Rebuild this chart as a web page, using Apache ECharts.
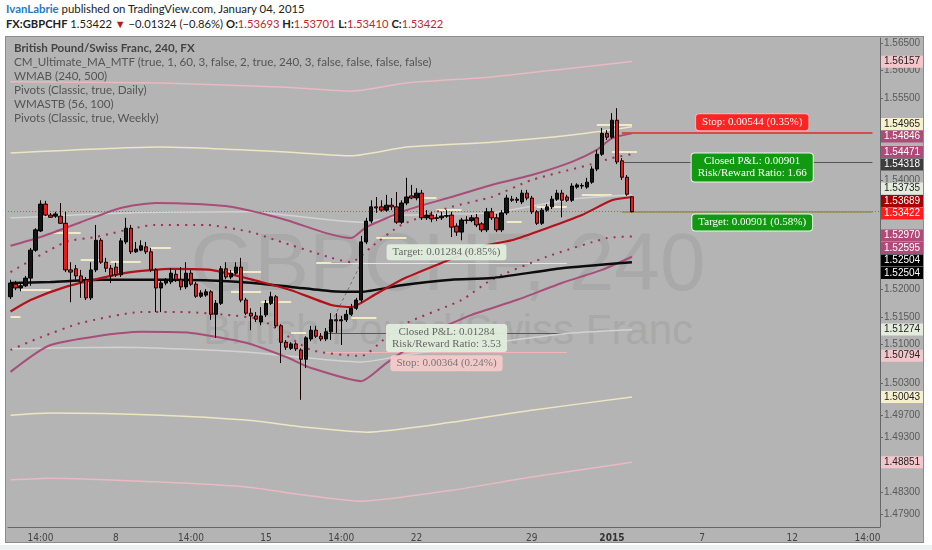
<!DOCTYPE html>
<html>
<head>
<meta charset="utf-8">
<script src="https://cdn.jsdelivr.net/npm/echarts@6/dist/echarts.min.js"></script>
<style>
  html, body { margin: 0; padding: 0; background: #fff; }
  #wrap { position: relative; width: 932px; height: 550px; overflow: hidden; font-family: Lato, "Open Sans", sans-serif; }
  #hdr1 { position: absolute; left: 6px; top: 2px; font-size: 11.4px; color: #222; white-space: nowrap; }
  #hdr1 .au { color: #1f7cc1; font-weight: bold; }
  #hdr2 { position: absolute; left: 6px; top: 17px; font-size: 11.2px; color: #222; white-space: nowrap; }
  #hdr2 .r { color: #c0262d; }
  #hdr2 .dn { color: #b71c1c; font-size: 11px; }
  #foot { position: absolute; left: 0; top: 545px; width: 932px; height: 5px; background: #eef1f3; }
  #panel { position: absolute; left: 5px; top: 36px; width: 919px; height: 507px; background: #b4b4b4; border: 1px solid #8c8c8c; box-sizing: border-box; }
  .wm { position: absolute; left: 0; width: 896px; text-align: center; font-family: "Liberation Sans", Arial, sans-serif; color: #a9a9a9; white-space: nowrap; }
  #wm1 { top: 221px; font-size: 82px; line-height: 82px; }
  #wm2 { top: 309px; font-size: 42px; line-height: 42px; }
  #chart { position: absolute; left: 0; top: 0; width: 932px; height: 550px; }
  #legend { position: absolute; left: 14px; top: 41px; font-size: 11.6px; line-height: 14px; color: #555; pointer-events: none; white-space: nowrap; }
  #legend .t { font-weight: bold; color: #444; }
</style>
</head>
<body>
<div id="wrap">
  <div id="hdr1"><span class="au">IvanLabrie</span> published on TradingView.com, January 04, 2015</div>
  <div id="hdr2"><b>FX:GBPCHF</b> 1.53422 <span class="dn">&#9660;</span> &minus;0.01324 (&minus;0.86%) <b>O:</b><span class="r">1.53693</span> <b>H:</b><span class="r">1.53701</span> <b>L:</b><span class="r">1.53410</span> <b>C:</b><span class="r">1.53422</span></div>
  <div id="panel"></div>
  <div id="foot"></div>
  <div class="wm" id="wm1">GBPCHF, 240</div>
  <div class="wm" id="wm2">British Pound/Swiss Franc</div>
  <div id="chart"></div>
  <div id="legend">
    <div class="t">British Pound/Swiss Franc, 240, FX</div>
    <div>CM_Ultimate_MA_MTF (true, 1, 60, 3, false, 2, true, 240, 3, false, false, false, false)</div>
    <div>WMAB (240, 500)</div>
    <div>Pivots (Classic, true, Daily)</div>
    <div>WMASTB (56, 100)</div>
    <div>Pivots (Classic, true, Weekly)</div>
  </div>
</div>
<script>
"use strict";

// 4H bars, index = bar number (the chart keeps empty future bars on the right)
const bars = Array.from({ length: 174 }, (_, i) => String(i));
const xTicks = [[6, "14:00"], [21, "8"], [36, "14:00"], [51, "15"], [66, "14:00"], [81, "22"],
                [104, "29"], [120, "2015"], [138, "7"], [156, "12"], [171, "14:00"]];
const yTicks = [1.565, 1.560, 1.555, 1.550, 1.545, 1.540, 1.535, 1.530, 1.525, 1.520, 1.515,
                1.510, 1.503, 1.497, 1.493, 1.488, 1.483, 1.479];

// open, high, low, close
const ohlc = [
  [1.5187,1.5218,1.5183,1.5212],[1.5210,1.5216,1.5199,1.5203],[1.5203,1.5212,1.5197,1.5207],[1.5207,1.5225,1.5205,1.5221],
  [1.5221,1.5276,1.5207,1.5272],[1.5272,1.5312,1.5269,1.5309],[1.5307,1.5363,1.5305,1.5356],[1.5356,1.5362,1.5334,1.5336],
  [1.5336,1.5340,1.5331,1.5332],[1.5334,1.5342,1.5331,1.5338],[1.5334,1.5358,1.5320,1.5321],[1.5321,1.5342,1.5232,1.5236],
  [1.5236,1.5250,1.5177,1.5232],[1.5238,1.5245,1.5218,1.5225],[1.5225,1.5236,1.5185,1.5214],[1.5218,1.5223,1.5181,1.5185],
  [1.5185,1.5250,1.5181,1.5236],[1.5236,1.5318,1.5232,1.5290],[1.5290,1.5294,1.5247,1.5250],[1.5250,1.5258,1.5232,1.5239],
  [1.5239,1.5245,1.5212,1.5225],[1.5241,1.5249,1.5223,1.5227],[1.5227,1.5294,1.5223,1.5289],[1.5287,1.5331,1.5283,1.5312],
  [1.5312,1.5318,1.5265,1.5269],[1.5269,1.5287,1.5267,1.5274],[1.5272,1.5290,1.5270,1.5280],[1.5278,1.5287,1.5265,1.5269],
  [1.5269,1.5276,1.5232,1.5236],[1.5236,1.5239,1.5159,1.5203],[1.5203,1.5218,1.5159,1.5212],[1.5212,1.5221,1.5208,1.5218],
  [1.5214,1.5239,1.5210,1.5230],[1.5228,1.5236,1.5214,1.5218],[1.5218,1.5241,1.5199,1.5205],[1.5205,1.5250,1.5201,1.5230],
  [1.5230,1.5236,1.5207,1.5210],[1.5210,1.5214,1.5185,1.5188],[1.5188,1.5199,1.5185,1.5194],[1.5190,1.5201,1.5187,1.5196],
  [1.5196,1.5199,1.5145,1.5155],[1.5155,1.5181,1.5112,1.5175],[1.5175,1.5243,1.5172,1.5238],[1.5238,1.5250,1.5219,1.5223],
  [1.5223,1.5236,1.5219,1.5230],[1.5230,1.5250,1.5227,1.5241],[1.5241,1.5258,1.5177,1.5181],[1.5181,1.5185,1.5154,1.5157],
  [1.5157,1.5166,1.5126,1.5152],[1.5152,1.5159,1.5141,1.5146],[1.5141,1.5168,1.5135,1.5152],[1.5154,1.5181,1.5150,1.5175],
  [1.5175,1.5196,1.5172,1.5187],[1.5187,1.5190,1.5130,1.5134],[1.5134,1.5137,1.5066,1.5104],[1.5104,1.5108,1.5090,1.5095],
  [1.5093,1.5104,1.5090,1.5101],[1.5101,1.5104,1.5088,1.5092],[1.5090,1.5093,1.4999,1.5073],[1.5073,1.5115,1.5057,1.5112],
  [1.5110,1.5134,1.5106,1.5126],[1.5126,1.5134,1.5112,1.5115],[1.5115,1.5121,1.5106,1.5110],[1.5110,1.5130,1.5106,1.5123],
  [1.5123,1.5157,1.5108,1.5145],[1.5145,1.5157,1.5121,1.5143],[1.5143,1.5152,1.5099,1.5145],[1.5145,1.5163,1.5141,1.5155],
  [1.5155,1.5174,1.5152,1.5166],[1.5166,1.5185,1.5163,1.5181],[1.5181,1.5298,1.5177,1.5287],[1.5287,1.5331,1.5283,1.5325],
  [1.5325,1.5363,1.5321,1.5351],[1.5351,1.5369,1.5340,1.5349],[1.5351,1.5363,1.5342,1.5345],[1.5345,1.5373,1.5342,1.5354],
  [1.5354,1.5367,1.5345,1.5351],[1.5351,1.5378,1.5320,1.5323],[1.5323,1.5363,1.5320,1.5358],[1.5358,1.5404,1.5354,1.5369],
  [1.5371,1.5391,1.5365,1.5367],[1.5367,1.5385,1.5363,1.5376],[1.5376,1.5382,1.5327,1.5331],[1.5331,1.5345,1.5327,1.5336],
  [1.5336,1.5342,1.5323,1.5329],[1.5331,1.5338,1.5325,1.5330],[1.5331,1.5342,1.5327,1.5334],[1.5334,1.5345,1.5331,1.5335],
  [1.5336,1.5342,1.5296,1.5314],[1.5316,1.5321,1.5298,1.5305],[1.5305,1.5331,1.5290,1.5327],[1.5327,1.5334,1.5320,1.5326],
  [1.5326,1.5336,1.5323,1.5331],[1.5331,1.5338,1.5314,1.5318],[1.5320,1.5323,1.5305,1.5309],[1.5309,1.5349,1.5305,1.5342],
  [1.5342,1.5349,1.5327,1.5331],[1.5331,1.5338,1.5305,1.5309],[1.5309,1.5345,1.5305,1.5340],[1.5340,1.5373,1.5336,1.5367],
  [1.5365,1.5371,1.5360,1.5363],[1.5363,1.5369,1.5358,1.5365],[1.5360,1.5382,1.5356,1.5376],[1.5376,1.5382,1.5363,1.5367],
  [1.5367,1.5371,1.5338,1.5342],[1.5342,1.5345,1.5318,1.5321],[1.5321,1.5349,1.5318,1.5345],[1.5345,1.5356,1.5342,1.5351],
  [1.5351,1.5371,1.5347,1.5365],[1.5365,1.5382,1.5362,1.5376],[1.5376,1.5382,1.5332,1.5363],[1.5369,1.5373,1.5360,1.5363],
  [1.5363,1.5394,1.5360,1.5389],[1.5387,1.5394,1.5384,1.5391],[1.5389,1.5394,1.5384,1.5390],[1.5387,1.5404,1.5384,1.5396],
  [1.5396,1.5425,1.5393,1.5420],[1.5420,1.5455,1.5416,1.5447],[1.5447,1.5495,1.5444,1.5485],[1.5485,1.5491,1.5473,1.5478],
  [1.5478,1.5522,1.5475,1.5509],[1.5509,1.5531,1.5429,1.5433],[1.5435,1.5440,1.5400,1.5405],[1.5405,1.5409,1.5371,1.5374],
  [1.53693,1.53701,1.53410,1.53422]
];
const lastClose = 1.53422;

// indicator lines, [bar, price] read at the turning points
const redMA   = [[0,1.5160],[4,1.5181],[11,1.5205],[18,1.5221],[24,1.5232],[32,1.5238],[40,1.5236],[50,1.5214],[56,1.5199],[64,1.5172],
                 [68,1.5168],[72,1.5187],[78,1.5218],[85,1.5245],[95,1.5281],[100,1.5290],[107,1.5312],[114,1.5336],[120,1.5363],[124,1.5369]];
const blackMA = [[0,1.5212],[8,1.5214],[18,1.5218],[32,1.5218],[46,1.5214],[56,1.5205],[64,1.5197],[70,1.5196],[78,1.5208],[88,1.5218],
                 [96,1.5221],[110,1.5239],[124,1.5250]];
const bandUp  = [[0,1.5280],[6,1.5296],[14,1.5323],[22,1.5349],[29,1.5358],[37,1.5356],[44,1.5351],[55,1.5327],[63,1.5303],[68,1.5294],
                 [71,1.5314],[79,1.5345],[88,1.5369],[96,1.5391],[104,1.5409],[112,1.5433],[117,1.5455],[120,1.5476],[124,1.5485]];
const bandDn  = [[0,1.5050],[8,1.5099],[26,1.5123],[36,1.5121],[47,1.5103],[55,1.5077],[60,1.5057],[70,1.5033],[75,1.5066],[84,1.5121],
                 [92,1.5154],[101,1.5181],[110,1.5212],[118,1.5236],[124,1.5260]];
const dotUp   = [[0,1.5232],[11,1.5287],[17,1.5296],[29,1.5318],[39,1.5318],[48,1.5305],[53,1.5290],[64,1.5258],[68,1.5250],[72,1.5278],
                 [78,1.5318],[88,1.5351],[96,1.5369],[104,1.5400],[116,1.5429],[120,1.5440],[124,1.5447]];
const dotDn   = [[0,1.5090],[6,1.5113],[14,1.5139],[26,1.5159],[35,1.5159],[43,1.5154],[50,1.5145],[60,1.5090],[70,1.5079],[75,1.5113],
                 [79,1.5139],[90,1.5181],[96,1.5218],[107,1.5260],[119,1.5294],[124,1.5297]];
const creamUp = [[0,1.5449],[30,1.5460],[55,1.5451],[68,1.5444],[79,1.5460],[96,1.5469],[112,1.5482],[124,1.5497]];
const creamDn = [[0,1.4971],[8,1.4975],[30,1.4971],[47,1.4962],[59,1.4949],[71,1.4940],[88,1.4958],[104,1.4980],[124,1.5004]];
const pinkUp  = [[0,1.5579],[30,1.5577],[55,1.5569],[68,1.5562],[79,1.5577],[96,1.5588],[112,1.5604],[124,1.5616]];
const pinkDn  = [[0,1.4853],[8,1.4856],[30,1.4849],[47,1.4840],[59,1.4825],[70,1.4814],[88,1.4834],[104,1.4858],[124,1.4885]];
const lightUp = [[0,1.5331],[23,1.5340],[47,1.5342],[70,1.5323],[79,1.5336],[96,1.5340],[112,1.5365],[124,1.5373]];
const lightDn = [[0,1.5092],[22,1.5095],[47,1.5086],[70,1.5068],[79,1.5081],[96,1.5103],[112,1.5121],[124,1.5127]];

// daily pivot segments: from bar, to bar, price
const pivots = [[0,2,1.5150],[2,8,1.5199],[8,14,1.5303],[14,18,1.5254],[20,26,1.5250],[28,32,1.5276],[43,50,1.5232],
                [44,50,1.5196],[50,56,1.5177],[56,59,1.5121],[61,64,1.5249],[68,73,1.5148],[73,79,1.5294],[80,85,1.5367],
                [85,90,1.5345],[99,102,1.5323],[105,111,1.5351],[114,120,1.5373],[117,124,1.5500],[120,125,1.5451]];

// trades: from bar, to bar, entry, stop, target, label bar
const tradeA = [63, 111, 1.5121, 1.5085, 1.5249, 87];
const tradeB = [122, 172, 1.54318, 1.54862, 1.53417, 148];
const tradeAText = ["Target: 0.01284 (0.85%)", "Closed P&L: 0.01284\nRisk/Reward Ratio: 3.53", "Stop: 0.00364 (0.24%)"];
const tradeBText = ["Target: 0.00901 (0.58%)", "Closed P&L: 0.00901\nRisk/Reward Ratio: 1.66", "Stop: 0.00544 (0.35%)"];

// right scale value tags: value, fill, text
const priceTags = [
  [1.56157, "#f4c6cb", "#222"], [1.54965, "#f7f0cc", "#222"], [1.54846, "#b04a78", "#fff"],
  [1.54471, "#b04a78", "#fff"], [1.54318, "#3d3d3d", "#fff"], [1.53735, "#e3ecdc", "#222"],
  [1.53689, "#a80000", "#fff"], [1.53422, "#ff1c1c", "#fff"], [1.52970, "#b04a78", "#fff"],
  [1.52595, "#b04a78", "#fff"], [1.52504, "#000", "#fff"], [1.52504, "#000", "#fff"],
  [1.51274, "#e3ecdc", "#222"], [1.50794, "#f4c6cb", "#222"], [1.50043, "#f7f0cc", "#222"],
  [1.48851, "#f4c6cb", "#222"]
];

const tickMap = new Map(xTicks);
const chart = echarts.init(document.getElementById("chart"));

function line(data, color, width, type, z) {
  return {
    type: "line", data, symbol: "none", smooth: 0.2, silent: true, z: z || 2,
    lineStyle: { color, width, type: type || "solid" }
  };
}

function seg(a, b, p, style) {
  return [{ coord: [a, p], lineStyle: style }, { coord: [b, p] }];
}

function tradeLines(t, entryC, stopC, targetC, w) {
  return [
    seg(t[0], t[1], t[2], { color: entryC, width: 1, type: "solid" }),
    seg(t[0], t[1], t[3], { color: stopC, width: w, type: "solid" }),
    seg(t[0], t[1], t[4], { color: targetC, width: w, type: "solid" })
  ];
}

function tradeBoxes(t, txt, bg, fg, border) {
  const base = {
    color: fg, backgroundColor: bg, borderColor: border, borderWidth: border ? 1 : 0,
    borderRadius: 3, padding: [2, 6], fontFamily: '"Liberation Serif", serif', fontSize: 11, lineHeight: 12, align: "center"
  };
  // target sits below (short) or above (long) its line, stop on the other side
  const long = t[4] > t[2];
  return [
    { coord: [t[5], t[4]], label: Object.assign({ show: true, formatter: txt[0], position: long ? "top" : "bottom", distance: 2 }, base) },
    { coord: [t[5], t[2]], label: Object.assign({ show: true, formatter: txt[1], position: "inside", offset: [0, 5] }, base) },
    { coord: [t[5], t[3]], label: Object.assign({ show: true, formatter: txt[2], position: long ? "bottom" : "top", distance: 2 }, base) }
  ];
}

const markLines = [
  [{ yAxis: lastClose, x: 8, lineStyle: { color: "#e24848", width: 1, type: [1, 2] } }, { yAxis: lastClose, x: 880 }]
]
  .concat(pivots.map(([a, b, p]) => seg(a, b, p, { color: "#f0eac8", width: 2, type: "solid" })))
  .concat(tradeLines(tradeA, "#5a5a5a", "#f2b6b6", "#e6e6e6", 1))
  .concat(tradeLines(tradeB, "#555555", "#e02a2a", "#8e8e52", 1.5))
  .concat([[{ coord: [tradeA[0], tradeA[2]], lineStyle: { color: "#707070", width: 1, type: [3, 3] } }, { coord: [tradeA[0] + 7, tradeA[4]] }]]);

chart.setOption({
  backgroundColor: "transparent",
  animation: false,
  grid: { left: 8, right: 52, top: 38, bottom: 23, outerBoundsMode: "none" },
  xAxis: {
    type: "category", data: bars, boundaryGap: true,
    axisLine: { lineStyle: { color: "#666" } },
    axisTick: { alignWithLabel: true, length: 3, interval: (i) => tickMap.has(i), lineStyle: { color: "#666" } },
    axisLabel: {
      interval: (i) => tickMap.has(i), margin: 6, color: "#444", fontSize: 10,
      fontFamily: '"Liberation Sans Narrow", "DejaVu Sans Condensed", sans-serif',
      formatter: (v) => { const t = tickMap.get(Number(v)); return t === "2015" ? "{b|2015}" : t; },
      rich: { b: { fontWeight: "bold", color: "#333", fontSize: 10, fontFamily: '"Liberation Sans Narrow", "DejaVu Sans Condensed", sans-serif' } }
    },
    splitLine: { show: false }
  },
  yAxis: {
    type: "value", position: "right", min: 1.4767, max: 1.5659,
    splitLine: { show: false },
    axisLine: { show: true, lineStyle: { color: "#666" } },
    axisTick: { show: true, length: 3, customValues: yTicks, lineStyle: { color: "#666" } },
    axisLabel: { customValues: yTicks, formatter: (v) => v.toFixed(5), color: "#5a5a5a", fontSize: 10, margin: 4, fontFamily: '"Liberation Sans", Arial, sans-serif' }
  },
  series: [
    line(pinkUp, "#e9b9c4", 1.5),
    line(pinkDn, "#e9b9c4", 1.5),
    line(creamUp, "#ece6c2", 1.5),
    line(creamDn, "#ece6c2", 1.5),
    line(lightUp, "#d2d2d2", 1.5),
    line(lightDn, "#d2d2d2", 1.5),
    line(bandUp, "#a84e78", 2),
    line(bandDn, "#a84e78", 2),
    line(dotUp, "#a03050", 2, [2, 6]),
    line(dotDn, "#a03050", 2, [2, 6]),
    line(blackMA, "#0c0c0c", 2.5, "solid", 3),
    line(redMA, "#b3121a", 2.2, "solid", 3),
    {
      type: "candlestick", data: ohlc.map(([o, h, l, c]) => [o, c, l, h]), barWidth: 3.8, z: 5, silent: true,
      itemStyle: { color: "#141414", color0: "#e61c1c", borderColor: "#000", borderColor0: "#140000", borderWidth: 1 },
      markLine: { symbol: ["none", "none"], silent: true, label: { show: false }, z: 1, data: markLines },
      markPoint: {
        symbol: "rect", symbolSize: 1, silent: true, itemStyle: { color: "transparent" },
        data: tradeBoxes(tradeA, tradeAText, "rgba(226,240,222,0.92)", "#666", null)
          .concat(tradeBoxes(tradeB, tradeBText, "#119a11", "#fff", "#e8f4e8"))
          .map((d, k) => { if (k === 5) { d.label.backgroundColor = "#ff2424"; d.label.borderColor = "#ffb0b0"; } if (k === 2) { d.label.backgroundColor = "rgba(246,202,202,0.95)"; d.label.color = "#777"; } return d; })
      }
    }
  ]
});

// value tags on the right scale, nudged apart where they collide
function drawTags() {
  const h = 12.5;
  const items = priceTags.map(([v, bg, fg]) => ({ v, bg, fg, y: chart.convertToPixel({ yAxisIndex: 0 }, v) }))
    .sort((a, b) => a.y - b.y);
  const groups = items.map(it => ({ items: [it] }));
  const place = g => {
    const m = g.items.reduce((s, it) => s + it.y, 0) / g.items.length;
    g.top = m - (g.items.length - 1) * h / 2;
  };
  groups.forEach(place);
  let merged = true;
  while (merged) {
    merged = false;
    for (let k = 0; k < groups.length - 1; k++) {
      const a = groups[k], b = groups[k + 1];
      if (a.top + a.items.length * h > b.top) {
        a.items = a.items.concat(b.items);
        groups.splice(k + 1, 1);
        place(a);
        merged = true;
        break;
      }
    }
  }
  const els = [];
  groups.forEach(g => g.items.forEach((it, j) => {
    const cy = g.top + j * h;
    els.push({ type: "rect", z: 100, shape: { x: 881, y: cy - 6, width: 42, height: 12 }, style: { fill: it.bg } });
    els.push({ type: "text", z: 101, style: { x: 884, y: cy, text: it.v.toFixed(5), fill: it.fg, font: '10px "Liberation Sans", Arial, sans-serif', verticalAlign: "middle" } });
  }));
  chart.setOption({ graphic: els });
}
drawTags();
</script>
</body>
</html>
